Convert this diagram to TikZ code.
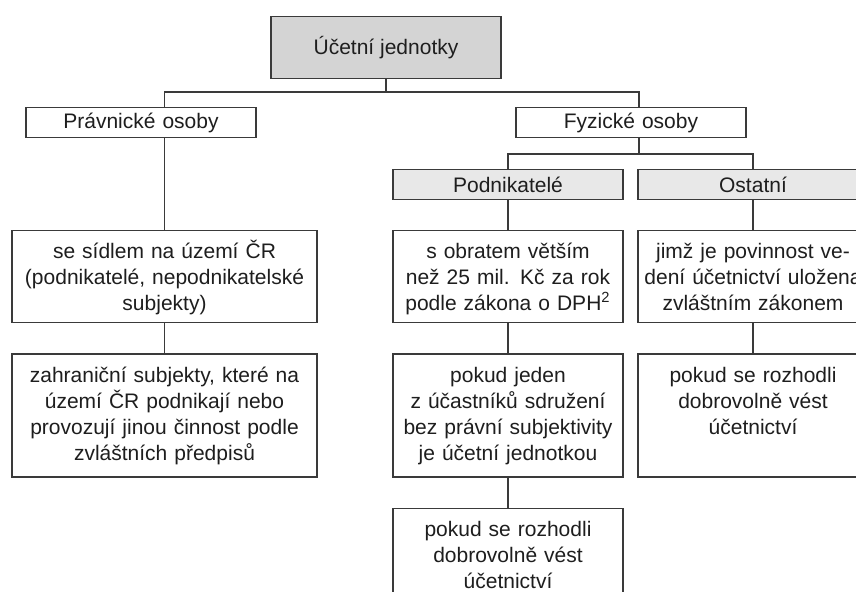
\documentclass[tikz,border=0pt]{standalone}
\usepackage{fontspec}
\setmainfont{Liberation Sans}
\usetikzlibrary{positioning}
\definecolor{ujInk}{HTML}{3A3A3A}
\definecolor{ujText}{HTML}{1E1E1E}
\definecolor{ujGray}{HTML}{D4D4D4}
\definecolor{ujLight}{HTML}{E8E8E8}
\tikzset{
  cell/.style={draw=ujInk, line width=0.7pt, fill=white, text=ujText, inner xsep=0pt, align=center, anchor=north, font=\fontsize{10.5}{13}\selectfont},
  rootbox/.style={cell, fill=ujGray, minimum width=115pt, minimum height=31pt},
  head/.style={cell, text width=115pt, minimum height=15pt, inner ysep=0pt},
  headG/.style={head, fill=ujLight},
  tbox/.style={cell, text width=115pt, inner ysep=0pt, text height=14pt, text depth=32pt},
  tboxW/.style={tbox, text width=152.5pt},
  tall/.style={text depth=47.5pt},
  link/.style={draw=ujInk, line width=0.7pt},
}
\begin{document}
\begin{tikzpicture}[x=0.5pt, y=-0.5pt, node distance=15pt]
  \useasboundingbox (0,0) rectangle (856,591);
  \clip (0,0) rectangle (856,591);

  \node[rootbox] (rootb) at (386,16) {Účetní jednotky};
  \node[head] (pravn) at (141,107) {Právnické osoby};
  \node[head] (fyz) at (631,107) {Fyzické osoby};
  \node[headG] (podnik) at (508,169) {Podnikatelé};
  \node[headG] (ostat) at (753,169) {Ostatní};

  \node[tboxW] (sidlem) at (164.5,230) {se sídlem na území ČR\\(podnikatelé, nepodnikatelské\\subjekty)};
  \node[tboxW, tall, below=of sidlem] (zahran) {zahraniční subjekty, které na\\území ČR podnikají nebo\\provozují jinou činnost podle\\zvláštních předpisů};

  \node[tbox] (obrat) at (508,230) {s obratem větším\\než 25 mil. Kč za rok\\podle zákona o DPH\textsuperscript{2}};
  \node[tbox, tall, below=of obrat] (jeden) {pokud jeden\\z účastníků sdružení\\bez právní subjektivity\\je účetní jednotkou};
  \node[tbox, below=of jeden] (dobro) {pokud se rozhodli\\dobrovolně vést\\účetnictví};

  \node[tbox] (jimz) at (753,230) {jimž je povinnost ve-\\dení účetnictví uložena\\zvláštním zákonem};
  \node[tbox, tall, below=of jimz] (rozhod) {pokud se rozhodli\\dobrovolně vést\\účetnictví};

  \coordinate (busA) at (386,92);
  \coordinate (busB) at (639,154);
  \draw[link] (rootb.south) -- (busA);
  \draw[link] (sidlem.north |- pravn.north) |- (busA) -| (busB |- fyz.north);
  \draw[link] (sidlem.north |- pravn.south) -- (sidlem.north);
  \draw[link] (sidlem.south) -- (zahran.north);
  \draw[link] (busB |- fyz.south) -- (busB);
  \draw[link] (podnik.north) |- (busB) -| (ostat.north);
  \draw[link] (podnik.south) -- (obrat.north);
  \draw[link] (obrat.south) -- (jeden.north);
  \draw[link] (jeden.south) -- (dobro.north);
  \draw[link] (ostat.south) -- (jimz.north);
  \draw[link] (jimz.south) -- (rozhod.north);
\end{tikzpicture}
\end{document}
